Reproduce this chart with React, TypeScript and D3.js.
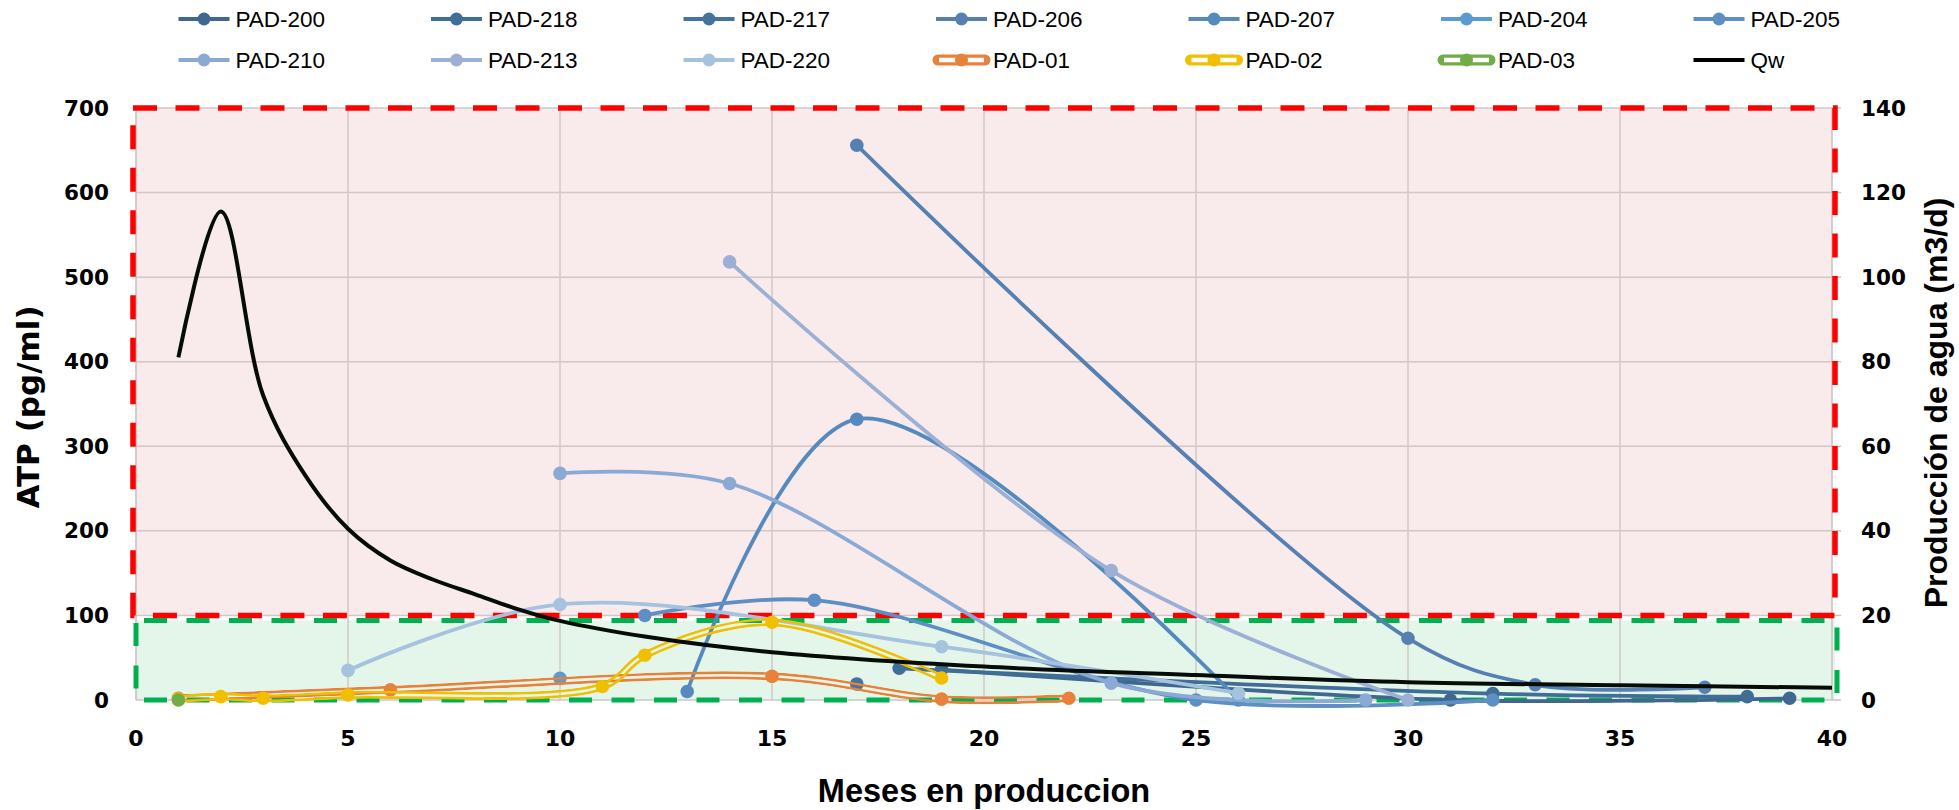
import React from 'react';
import * as d3 from 'd3';

const W = 1959;
const H = 810;

// axis ticks
const monthTicks = [0, 5, 10, 15, 20, 25, 30, 35, 40];
const atpTicks = [0, 100, 200, 300, 400, 500, 600, 700];
const qwTicks = [0, 20, 40, 60, 80, 100, 120, 140];

// ATP (pg/ml) per well, x = months in production
const pad200Months = [19, 31, 39];
const pad200Atp = [36, 0, 2];
const pad218Months = [18, 32, 38];
const pad218Atp = [37.5, 7.5, 4];
const pad217Months = [17];
const pad217Atp = [19];
const pad206Months = [17, 30, 33, 37];
const pad206Atp = [656, 73, 18, 15];
const pad207Months = [13, 17, 26];
const pad207Atp = [10, 332, 0];
const pad204Months = [10];
const pad204Atp = [25.6];
const pad205Months = [12, 16, 25, 32];
const pad205Atp = [100, 118, 0, 0];
const pad210Months = [10, 14, 23, 29];
const pad210Atp = [268, 256, 20, 0];
const pad213Months = [14, 23, 30];
const pad213Atp = [518, 153, 0];
const pad220Months = [5, 10, 19, 26];
const pad220Atp = [35, 113, 63, 8];
const pad01Months = [1, 6, 15, 19, 22];
const pad01Atp = [2, 12, 28, 1, 2];
const pad02Months = [1, 2, 3, 5, 11, 12, 15, 19];
const pad02Atp = [1, 4, 2, 6, 16, 53, 92, 26];
const pad03Months = [1];
const pad03Atp = [0];

// water production (m3/d), right axis
const qwMonths = [1, 2, 3, 4, 5, 6, 7, 8, 9, 10, 12, 15, 20, 25, 30, 35, 40];
const qwValues = [81, 115.5, 72, 53, 40.5, 33, 28.5, 25, 21.5, 18.7, 15, 11.3, 7.9, 5.9, 4.2, 3.5, 2.9];

// threshold zones (ATP)
const redZone = [100, 700];
const greenZone = [0, 94];

interface Series {
  name: string;
  months: number[];
  atp: number[];
  color: string;
  double?: boolean;
}

const series: Series[] = [
  { name: 'PAD-200', months: pad200Months, atp: pad200Atp, color: '#3f6790' },
  { name: 'PAD-218', months: pad218Months, atp: pad218Atp, color: '#3f6e97' },
  { name: 'PAD-217', months: pad217Months, atp: pad217Atp, color: '#44739f' },
  { name: 'PAD-206', months: pad206Months, atp: pad206Atp, color: '#5780b2' },
  { name: 'PAD-207', months: pad207Months, atp: pad207Atp, color: '#5689bd' },
  { name: 'PAD-204', months: pad204Months, atp: pad204Atp, color: '#5b9bd0' },
  { name: 'PAD-205', months: pad205Months, atp: pad205Atp, color: '#5e8fc4' },
  { name: 'PAD-210', months: pad210Months, atp: pad210Atp, color: '#8aaad5' },
  { name: 'PAD-213', months: pad213Months, atp: pad213Atp, color: '#9cb0d6' },
  { name: 'PAD-220', months: pad220Months, atp: pad220Atp, color: '#a5c3de' },
  { name: 'PAD-01', months: pad01Months, atp: pad01Atp, color: '#e8823a', double: true },
  { name: 'PAD-02', months: pad02Months, atp: pad02Atp, color: '#f0bf00', double: true },
  { name: 'PAD-03', months: pad03Months, atp: pad03Atp, color: '#70ad47', double: true },
];

const x = d3.scaleLinear().domain([0, 40]).range([136, 1832]);
const yL = d3.scaleLinear().domain([0, 700]).range([700, 108]);
const yR = d3.scaleLinear().domain([0, 140]).range([700, 108]);

const smooth = d3.curveCatmullRom.alpha(0.5);

const tickFont = 'DejaVu Sans, Verdana, sans-serif';
const titleFont = 'Liberation Sans, Arial, sans-serif';

const App: React.FC = () => {
  const lineGen = d3.line<[number, number]>().x(d => x(d[0])).y(d => yL(d[1])).curve(smooth);
  const qwLine = d3.line<[number, number]>().x(d => x(d[0])).y(d => yR(d[1])).curve(smooth);

  const left = x(0), right = x(40);

  return (
    <svg width={W} height={H} style={{ position: 'absolute', left: 0, top: 0, background: '#fff' }}>
      {/* zones */}
      <rect x={left} y={yL(redZone[1])} width={right - left} height={yL(redZone[0]) - yL(redZone[1])} fill="#f9ebec" />
      <rect x={left} y={yL(greenZone[1])} width={right - left + 3} height={yL(greenZone[0]) - yL(greenZone[1])} fill="#e4f5ea" />

      {/* grid */}
      {atpTicks.slice(1).map(t => (
        <line key={'h' + t} x1={left} x2={right} y1={yL(t)} y2={yL(t)} stroke="#d2c6c7" strokeWidth={1.5} />
      ))}
      {monthTicks.slice(1, -1).map(t => (
        <line key={'v' + t} x1={x(t)} x2={x(t)} y1={yL(700)} y2={yL(0)} stroke="#d2c9c9" strokeWidth={1.5} />
      ))}

      {/* axes */}
      <line x1={left} x2={left} y1={yL(700)} y2={yL(0)} stroke="#c4bcbc" strokeWidth={1.5} />
      <line x1={left} x2={right} y1={yL(0)} y2={yL(0)} stroke="#c8c8c8" strokeWidth={1.5} />
      <line x1={right} x2={right} y1={yR(140)} y2={yR(0)} stroke="#c8c0c0" strokeWidth={1.5} />
      {qwTicks.map(t => (
        <line key={'rt' + t} x1={right} x2={right + 9} y1={yR(t)} y2={yR(t)} stroke="#c8c0c0" strokeWidth={1.5} />
      ))}

      {/* zone borders */}
      <rect x={left - 3} y={yL(redZone[1])} width={right - left + 6} height={yL(redZone[0]) - yL(redZone[1])}
        fill="none" stroke="#ff0000" strokeWidth={5.5} strokeDasharray="24 18.5" />
      <rect x={left} y={yL(greenZone[1])} width={right - left + 5} height={yL(greenZone[0]) - yL(greenZone[1])}
        fill="none" stroke="#00b050" strokeWidth={5} strokeDasharray="23 19.5" strokeDashoffset={-8} />

      {/* series */}
      <defs>
        {series.map((s, i) => {
          if (!s.double || s.months.length < 2) return null;
          const d = lineGen(s.months.map((m, j) => [m, s.atp[j]]) as [number, number][]) || '';
          return (
            <mask key={'m' + i} id={'dbl-' + i} maskUnits="userSpaceOnUse" x={0} y={0} width={W} height={H}>
              <path d={d} fill="none" stroke="#fff" strokeWidth={8} />
              <path d={d} fill="none" stroke="#000" strokeWidth={2.6} />
            </mask>
          );
        })}
      </defs>
      {series.map((s, i) => {
        const pts = s.months.map((m, j) => [m, s.atp[j]]) as [number, number][];
        const d = pts.length > 1 ? lineGen(pts) || '' : '';
        return (
          <g key={s.name}>
            {d && (s.double
              ? <path d={d} fill="none" stroke={s.color} strokeWidth={8} mask={`url(#dbl-${i})`} />
              : <path d={d} fill="none" stroke={s.color} strokeWidth={3.8} />)}
            {pts.map((p, j) => (
              <circle key={j} cx={x(p[0])} cy={yL(p[1])} r={6.8} fill={s.color} />
            ))}
          </g>
        );
      })}
      <path d={qwLine(qwMonths.map((m, j) => [m, qwValues[j]]) as [number, number][]) || ''}
        fill="none" stroke="#060d08" strokeWidth={4} />

      {/* tick labels */}
      {atpTicks.map(t => (
        <text key={'yl' + t} x={109} y={yL(t)} textAnchor="end" dominantBaseline="central"
          fontFamily={tickFont} fontWeight="bold" fontSize={21.5}>{t}</text>
      ))}
      {qwTicks.map(t => (
        <text key={'yr' + t} x={1861} y={yR(t)} textAnchor="start" dominantBaseline="central"
          fontFamily={tickFont} fontWeight="bold" fontSize={21.5}>{t}</text>
      ))}
      {monthTicks.map(t => (
        <text key={'x' + t} x={x(t)} y={738} textAnchor="middle" dominantBaseline="central"
          fontFamily={tickFont} fontWeight="bold" fontSize={22}>{t}</text>
      ))}

      {/* axis titles */}
      <text transform="translate(28,407) rotate(-90)" textAnchor="middle" dominantBaseline="central"
        fontFamily={tickFont} fontWeight="bold" fontSize={31}>ATP (pg/ml)</text>
      <text transform="translate(1936,403) rotate(-90)" textAnchor="middle" dominantBaseline="central"
        fontFamily={titleFont} fontWeight="bold" fontSize={32}>Producción de agua (m3/d)</text>
      <text x={984} y={791} textAnchor="middle" dominantBaseline="central"
        fontFamily={titleFont} fontWeight="bold" fontSize={32.5}>Meses en produccion</text>

      {/* legend */}
      {[...series.map(s => ({ name: s.name, color: s.color, double: !!s.double, marker: true })),
        { name: 'Qw', color: '#000', double: false, marker: false }].map((item, i) => {
        const col = i % 7;
        const row = Math.floor(i / 7);
        const lx = 178.5 + col * 252.5;
        const ly = row === 0 ? 19 : 60;
        return (
          <g key={'lg' + item.name}>
            {item.double ? (
              <>
                <line x1={lx + 2} x2={lx + 49} y1={ly} y2={ly} stroke={item.color} strokeWidth={11} strokeLinecap="round" />
                <line x1={lx + 3} x2={lx + 48} y1={ly} y2={ly} stroke="#fff" strokeWidth={4.5} />
              </>
            ) : (
              <line x1={lx} x2={lx + 51} y1={ly} y2={ly} stroke={item.color} strokeWidth={4} />
            )}
            {item.marker && <circle cx={lx + 25.5} cy={ly} r={6.5} fill={item.color} />}
            <text x={lx + 57} y={ly} dominantBaseline="central" fontFamily={titleFont} fontSize={22.5}>{item.name}</text>
          </g>
        );
      })}
    </svg>
  );
};

export default App;
